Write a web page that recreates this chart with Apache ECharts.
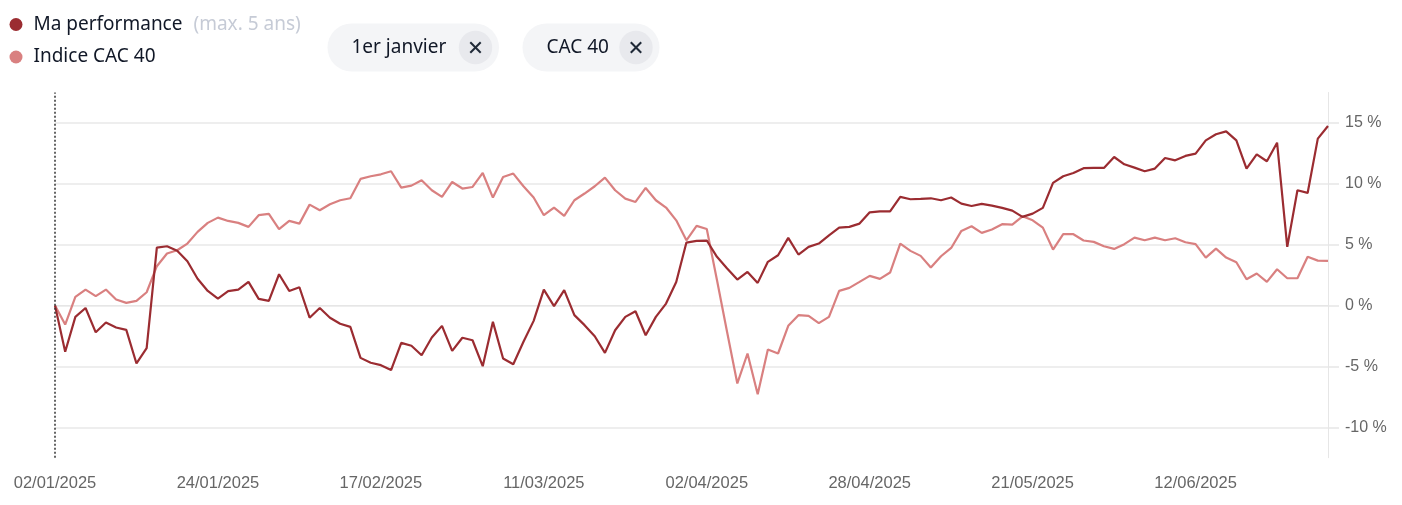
<!DOCTYPE html>
<html>
<head>
<meta charset="utf-8">
<script src="https://cdn.jsdelivr.net/npm/echarts@6/dist/echarts.min.js"></script>
<style>
  html, body { margin: 0; padding: 0; background: #ffffff; }
  #chart { width: 1402px; height: 505px; }
</style>
</head>
<body>
<div id="chart"></div>
<script>
// ---- DATA ----
const dates = [
  '02/01/2025','03/01/2025','06/01/2025','07/01/2025','08/01/2025','09/01/2025','10/01/2025','13/01/2025','14/01/2025','15/01/2025',
  '16/01/2025','17/01/2025','20/01/2025','21/01/2025','22/01/2025','23/01/2025','24/01/2025','27/01/2025','28/01/2025','29/01/2025',
  '30/01/2025','31/01/2025',
  '03/02/2025','04/02/2025','05/02/2025','06/02/2025','07/02/2025','10/02/2025','11/02/2025','12/02/2025','13/02/2025','14/02/2025',
  '17/02/2025','18/02/2025','19/02/2025','20/02/2025','21/02/2025','24/02/2025','25/02/2025','26/02/2025','27/02/2025','28/02/2025',
  '03/03/2025','04/03/2025','05/03/2025','06/03/2025','07/03/2025','10/03/2025','11/03/2025','12/03/2025','13/03/2025','14/03/2025',
  '17/03/2025','18/03/2025','19/03/2025','20/03/2025','21/03/2025','24/03/2025','25/03/2025','26/03/2025','27/03/2025','28/03/2025',
  '31/03/2025',
  '01/04/2025','02/04/2025','03/04/2025','04/04/2025','07/04/2025','08/04/2025','09/04/2025','10/04/2025','11/04/2025','14/04/2025',
  '15/04/2025','16/04/2025','17/04/2025','22/04/2025','23/04/2025','24/04/2025','25/04/2025','28/04/2025','29/04/2025','30/04/2025',
  '02/05/2025','05/05/2025','06/05/2025','07/05/2025','08/05/2025','09/05/2025','12/05/2025','13/05/2025','14/05/2025','15/05/2025',
  '16/05/2025','19/05/2025','20/05/2025','21/05/2025','22/05/2025','23/05/2025','26/05/2025','27/05/2025','28/05/2025','29/05/2025',
  '30/05/2025',
  '02/06/2025','03/06/2025','04/06/2025','05/06/2025','06/06/2025','09/06/2025','10/06/2025','11/06/2025','12/06/2025','13/06/2025',
  '16/06/2025','17/06/2025','18/06/2025','19/06/2025','20/06/2025','23/06/2025','24/06/2025','25/06/2025','26/06/2025','27/06/2025',
  '30/06/2025',
  '01/07/2025'
];

const maPerformance = [
  0, -3.8, -0.93, -0.2, -2.2, -1.4, -1.8, -2.0, -4.76, -3.5,
  4.76, 4.87, 4.5, 3.64, 2.2, 1.2, 0.57, 1.18, 1.3, 1.94,
  0.55, 0.38, 2.57, 1.2, 1.5, -1.0, -0.2, -1.0, -1.5, -1.75,
  -4.3, -4.7, -4.9, -5.3, -3.07, -3.3, -4.08, -2.63, -1.67, -3.72,
  -2.65, -2.85, -4.98, -1.34, -4.35, -4.82, -2.98, -1.26, 1.31, -0.05,
  1.26, -0.79, -1.61, -2.52, -3.89, -2.03, -0.93, -0.47, -2.44, -0.93,
  0.16, 1.94, 5.17, 5.31, 5.34, 4.0, 3.04, 2.13, 2.76, 1.86,
  3.59, 4.13, 5.56, 4.19, 4.82, 5.09, 5.77, 6.4, 6.46, 6.73,
  7.66, 7.74, 7.74, 8.92, 8.73, 8.76, 8.81, 8.65, 8.87, 8.37,
  8.18, 8.35, 8.21, 8.02, 7.8, 7.28, 7.55, 8.02, 10.07, 10.62,
  10.89, 11.28, 11.3, 11.3, 12.2, 11.6, 11.33, 11.03, 11.25, 12.12,
  11.93, 12.29, 12.48, 13.57, 14.07, 14.31, 13.57, 11.25, 12.42, 11.85,
  13.38, 4.82, 9.47, 9.25, 13.71, 14.75
];

const indiceCac40 = [
  0, -1.56, 0.71, 1.31, 0.77, 1.31, 0.49, 0.22, 0.38, 1.09,
  3.23, 4.27, 4.54, 5.09, 6.05, 6.79, 7.22, 6.95, 6.79, 6.46,
  7.42, 7.53, 6.27, 6.95, 6.73, 8.29, 7.83, 8.32, 8.65, 8.81,
  10.4, 10.62, 10.78, 11.03, 9.69, 9.85, 10.29, 9.47, 8.92, 10.15,
  9.61, 9.74, 10.89, 8.87, 10.56, 10.84, 9.8, 8.87, 7.42, 8.05,
  7.36, 8.65, 9.2, 9.8, 10.51, 9.47, 8.78, 8.51, 9.66, 8.65,
  8.05, 7.0, 5.36, 6.54, 6.29, 2.1, -2.2, -6.4, -3.94, -7.28,
  -3.61, -3.94, -1.67, -0.79, -0.85, -1.45, -0.93, 1.2, 1.45, 1.94,
  2.44, 2.19, 2.71, 5.09, 4.49, 4.08, 3.12, 4.05, 4.73, 6.13,
  6.51, 5.97, 6.24, 6.68, 6.65, 7.33, 7.0, 6.4, 4.6, 5.86,
  5.86, 5.34, 5.23, 4.87, 4.65, 5.04, 5.58, 5.36, 5.58, 5.36,
  5.53, 5.2, 5.04, 3.94, 4.68, 3.94, 3.56, 2.16, 2.63, 1.94,
  2.98, 2.24, 2.24, 4.0, 3.69, 3.67
];

const yTickValues = [-10, -5, 0, 5, 10, 15];
const seriesNames = ['Ma performance', 'Indice CAC 40'];
const legendNote = '(max. 5 ans)';
const chipLabels = ['1er janvier', 'CAC 40'];

// ---- CHART ----
const chart = echarts.init(document.getElementById('chart'), null, { renderer: 'canvas' });
const uiFont = '"Noto Sans", "Open Sans", sans-serif';
const axisFont = '"Liberation Sans", Arial, sans-serif';

function chip(x, w, label) {
  const y = 23.5, h = 48;
  const cx = x + w - 23.5, cy = y + h / 2;
  return {
    type: 'group',
    children: [
      { type: 'rect', shape: { x: x, y: y, width: w, height: h, r: h / 2 }, style: { fill: '#f4f5f7' } },
      { type: 'text', x: x + 24, y: cy, style: { text: label, font: '19px ' + uiFont, fill: '#111827', verticalAlign: 'middle', align: 'left' } },
      { type: 'circle', shape: { cx: cx, cy: cy, r: 16.7 }, style: { fill: '#e8e9ed' } },
      { type: 'line', shape: { x1: cx - 5.2, y1: cy - 5.2, x2: cx + 5.2, y2: cy + 5.2 }, style: { stroke: '#1f2937', lineWidth: 2 } },
      { type: 'line', shape: { x1: cx - 5.2, y1: cy + 5.2, x2: cx + 5.2, y2: cy - 5.2 }, style: { stroke: '#1f2937', lineWidth: 2 } }
    ]
  };
}

const option = {
  animation: false,
  backgroundColor: '#ffffff',
  grid: { left: 55, right: 74, top: 92.5, bottom: 47.3, containLabel: false },
  legend: {
    data: seriesNames,
    orient: 'vertical',
    left: 9.5,
    top: 15,
    padding: 0,
    icon: 'circle',
    itemWidth: 13,
    itemHeight: 13,
    itemGap: 13.5,
    selectedMode: false,
    formatter: function (name) {
      return name === seriesNames[0] ? '{a|' + name + '}{b|' + legendNote + '}' : '{a|' + name + '}';
    },
    textStyle: {
      rich: {
        a: { fontFamily: uiFont, fontSize: 19, color: '#111827', lineHeight: 22, padding: [0, 0, 0, 6] },
        b: { fontFamily: uiFont, fontSize: 19, color: '#c6cbd6', lineHeight: 22, padding: [0, 0, 0, 11] }
      }
    }
  },
  graphic: [
    chip(327.5, 171.5, chipLabels[0]),
    chip(522.5, 137, chipLabels[1])
  ],
  xAxis: {
    type: 'category',
    data: dates,
    boundaryGap: false,
    axisLine: { show: true, lineStyle: { color: '#e6e6e6', width: 1 } },
    axisTick: { show: false },
    axisLabel: { interval: 15, color: '#666666', fontFamily: axisFont, fontSize: 16.5, margin: 17 },
    splitLine: { show: false }
  },
  yAxis: {
    type: 'value',
    position: 'right',
    min: -12.5,
    max: 17.5,
    axisLine: { show: true, lineStyle: { color: '#e6e6e6', width: 1 } },
    axisTick: { show: true, customValues: yTickValues, length: 11, lineStyle: { color: '#e6e6e6', width: 1.5 } },
    axisLabel: { customValues: yTickValues, formatter: function (v) { return v + ' %'; }, color: '#666666', fontFamily: axisFont, fontSize: 16, margin: 17 },
    splitLine: { show: true, lineStyle: { color: '#e9e9e9', width: 1.5 } }
  },
  series: [
    {
      name: seriesNames[1],
      type: 'line',
      data: indiceCac40,
      showSymbol: false,
      symbol: 'none',
      color: '#d98080',
      lineStyle: { color: '#d98080', width: 2.2 },
      z: 2
    },
    {
      name: seriesNames[0],
      type: 'line',
      data: maPerformance,
      showSymbol: false,
      symbol: 'none',
      color: '#9b2c31',
      lineStyle: { color: '#9b2c31', width: 2.2 },
      z: 3,
      markLine: {
        silent: true,
        symbol: ['none', 'none'],
        label: { show: false },
        lineStyle: { color: '#333333', type: [2, 2], width: 1.5 },
        data: [{ xAxis: dates[0] }]
      }
    }
  ]
};
chart.setOption(option);
</script>
</body>
</html>
